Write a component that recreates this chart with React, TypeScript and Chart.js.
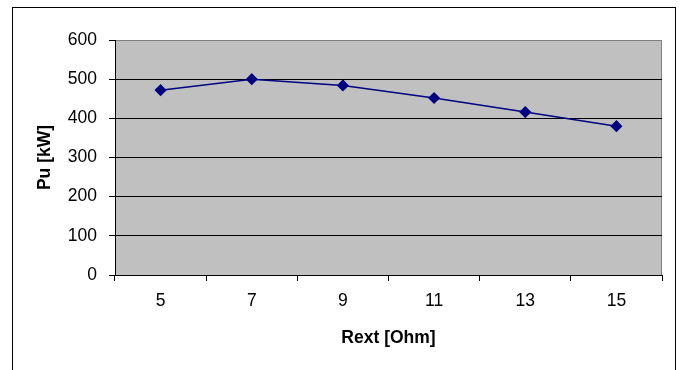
import React, { useEffect, useRef } from "react";
import { Chart, registerables } from "chart.js";

Chart.register(...registerables);

const categories = ["5", "7", "9", "11", "13", "15"];
const puValues = [472, 500, 484, 452, 416, 380];
const yTicks = [0, 100, 200, 300, 400, 500, 600];

const FONT = "'Liberation Sans', Arial, sans-serif";

const framePlugin = {
  id: "frameAndPlot",
  beforeDraw(chart: any) {
    const { ctx, chartArea } = chart;
    ctx.save();
    ctx.fillStyle = "#ffffff";
    ctx.fillRect(0, 0, chart.width, chart.height);
    ctx.strokeStyle = "#000000";
    ctx.lineWidth = 1;
    ctx.strokeRect(12.5, 7.5, 663, 370);
    ctx.fillStyle = "#C0C0C0";
    ctx.fillRect(chartArea.left, chartArea.top, chartArea.right - chartArea.left, chartArea.bottom - chartArea.top);
    ctx.strokeStyle = "#808080";
    ctx.beginPath();
    ctx.moveTo(chartArea.left, chartArea.top + 0.5);
    ctx.lineTo(chartArea.right - 0.5, chartArea.top + 0.5);
    ctx.lineTo(chartArea.right - 0.5, chartArea.bottom);
    ctx.stroke();
    ctx.restore();
  },
};

export default function App() {
  const ref = useRef<HTMLCanvasElement | null>(null);
  useEffect(() => {
    document.body.style.margin = "0";
    const chart = new Chart(ref.current as HTMLCanvasElement, {
      type: "line",
      data: {
        labels: categories,
        datasets: [
          {
            data: puValues,
            borderColor: "#000080",
            backgroundColor: "#000080",
            borderWidth: 1.5,
            pointStyle: "rectRot",
            pointRadius: 5,
            pointHoverRadius: 5,
            tension: 0,
          },
        ],
      },
      options: {
        animation: false,
        responsive: false,
        layout: { padding: { top: 40, right: 18, left: 0, bottom: 0 } },
        plugins: { legend: { display: false }, tooltip: { enabled: false } },
        scales: {
          x: {
            type: "category",
            offset: true,
            grid: {
              offset: true,
              drawOnChartArea: false,
              drawTicks: true,
              tickLength: 6,
              color: "#000000",
            },
            border: { display: true, color: "#000000", width: 1 },
            ticks: {
              color: "#000000",
              font: { family: FONT, size: 17.5 },
              padding: 10,
              maxRotation: 0,
            },
            title: {
              display: true,
              text: "Rext [Ohm]",
              color: "#000000",
              font: { family: FONT, size: 17.5, weight: "bold" },
              padding: { top: 0, bottom: 21 },
            },
            afterFit: (s: any) => {
              s.height = 95;
            },
          },
          y: {
            min: 0,
            max: 600,
            afterBuildTicks: (s: any) => {
              s.ticks = yTicks.map((v) => ({ value: v }));
            },
            grid: {
              color: (c: any) => (c.tick && c.tick.value === 600 ? "#808080" : "#000000"),
              tickColor: "#000000",
              tickLength: 6,
              lineWidth: 1,
            },
            border: { display: true, color: "#000000", width: 1 },
            ticks: {
              color: "#000000",
              font: { family: FONT, size: 17.5 },
              padding: 12,
            },
            title: {
              display: true,
              text: "Pu [kW]",
              color: "#000000",
              font: { family: FONT, size: 17.5, weight: "bold" },
              padding: { top: 35, bottom: 0 },
            },
            afterFit: (s: any) => {
              s.width = 115;
            },
          },
        },
      },
      plugins: [framePlugin],
    });
    return () => chart.destroy();
  }, []);
  return <canvas ref={ref} width={680} height={370} style={{ display: "block" }} />;
}
